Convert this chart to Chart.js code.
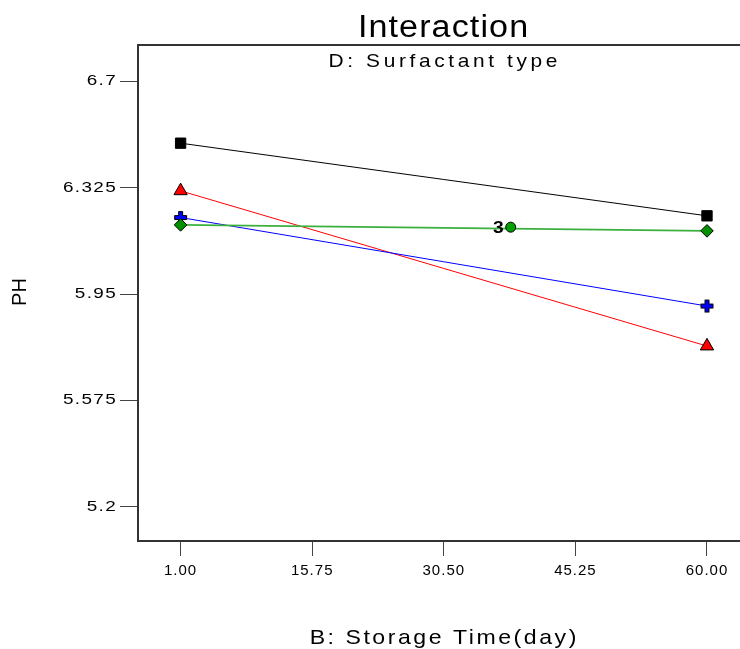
<!DOCTYPE html>
<html>
<head>
<meta charset="utf-8">
<script src="https://cdn.jsdelivr.net/npm/chart.js@4"></script>
<style>
  html, body { margin: 0; padding: 0; background: #fff; overflow: hidden; }
  #wrap { width: 760px; height: 649px; }
</style>
</head>
<body>
<div id="wrap"><canvas id="chart" width="760" height="649"></canvas></div>
<script>
// storage time (day) on x, PH on y, one line per surfactant type
const storageDays = [1, 60];
const phType1 = [6.482, 6.226];   // black squares
const phType2 = [6.314, 5.767];   // red triangles
const phType3 = [6.220, 5.908];   // blue crosses
const phType4 = [6.194, 6.173];   // green diamonds
const centerDay = 38;
const centerPh = 6.186;
const centerReps = "3";

const xTicks = [1, 15.75, 30.5, 45.25, 60];
const yTicks = [5.2, 5.575, 5.95, 6.325, 6.7];
const yTickLabels = ["5.2", "5.575", "5.95", "6.325", "6.7"];

const FONT = "'Liberation Sans', Arial, sans-serif";

function toPoints(xs, ys) {
  return xs.map((x, i) => ({ x: x, y: ys[i] }));
}

// filled plus marker with black outline
function plusMarker(fill) {
  const c = document.createElement("canvas");
  c.width = 15; c.height = 15;
  const g = c.getContext("2d");
  const a = 1.5, b = 5.5, d = 9.5, e = 13.5;
  g.beginPath();
  g.moveTo(b, a); g.lineTo(d, a); g.lineTo(d, b); g.lineTo(e, b); g.lineTo(e, d);
  g.lineTo(d, d); g.lineTo(d, e); g.lineTo(b, e); g.lineTo(b, d); g.lineTo(a, d);
  g.lineTo(a, b); g.lineTo(b, b); g.closePath();
  g.fillStyle = fill; g.fill();
  g.strokeStyle = "#000"; g.lineWidth = 1; g.stroke();
  return c;
}

// centred text, a bit wide like the original export
function wideText(ctx, text, cx, y, font, spacing, sx) {
  ctx.save();
  ctx.font = font;
  ctx.letterSpacing = spacing + "px";
  ctx.textAlign = "left";
  ctx.textBaseline = "alphabetic";
  const w = (ctx.measureText(text).width - spacing) * sx;
  ctx.translate(cx - w / 2, y);
  ctx.scale(sx, 1);
  ctx.fillStyle = "#000";
  ctx.fillText(text, 0, 0);
  ctx.restore();
}

// x labels: small letter spacing
function spaceLabels(scale, spacing) {
  if (scale._wide) return;
  const orig = scale.drawLabels.bind(scale);
  scale.drawLabels = area => {
    const ctx = scale.ctx;
    ctx.save();
    ctx.letterSpacing = spacing + "px";
    orig(area);
    ctx.restore();
  };
  scale._wide = true;
}

// y labels: stretched sideways around their common right edge
function stretchLabels(scale, spacing, sx) {
  if (scale._wide) return;
  const orig = scale.drawLabels.bind(scale);
  scale.drawLabels = area => {
    const ctx = scale.ctx;
    const x0 = scale.right - scale.options.grid.tickLength - scale.options.ticks.padding;
    ctx.save();
    ctx.letterSpacing = spacing + "px";
    ctx.translate(x0, 0);
    ctx.scale(sx, 1);
    ctx.translate(-x0, 0);
    orig(area);
    ctx.restore();
  };
  scale._wide = true;
}

const frameAndText = {
  id: "frameAndText",
  afterUpdate(chart) {
    spaceLabels(chart.scales.x, 1);
    stretchLabels(chart.scales.y, 1, 1.35);
  },
  afterDraw(chart) {
    const ctx = chart.ctx;
    const a = chart.chartArea;
    ctx.save();
    ctx.strokeStyle = "#333";
    ctx.lineWidth = 2;
    ctx.strokeRect(a.left, a.top, a.right - a.left, a.bottom - a.top);
    ctx.restore();

    wideText(ctx, "Interaction", 443, 36.5, "31px " + FONT, 1, 1.1);
    wideText(ctx, "D: Surfactant type", 443, 67, "19px " + FONT, 3.3, 1.1);
    wideText(ctx, "B: Storage Time(day)", 443, 644, "21px " + FONT, 2.3, 1.1);

    ctx.save();
    ctx.translate(26, 292);
    ctx.rotate(-Math.PI / 2);
    ctx.font = "20px " + FONT;
    ctx.textAlign = "center";
    ctx.fillStyle = "#000";
    ctx.fillText("PH", 0, 0);
    ctx.restore();

    // replicate count beside the centre point
    const pt = chart.getDatasetMeta(0).data[0];
    ctx.save();
    ctx.font = "bold 16px " + FONT;
    ctx.textAlign = "right";
    ctx.fillStyle = "#000";
    ctx.translate(pt.x - 7, pt.y + 5.5);
    ctx.scale(1.2, 1);
    ctx.fillText(centerReps, 0, 0);
    ctx.restore();
  }
};

new Chart(document.getElementById("chart"), {
  type: "line",
  data: {
    datasets: [
      {
        data: [{ x: centerDay, y: centerPh }],
        showLine: false,
        pointStyle: "circle",
        pointRadius: 5,
        backgroundColor: "#00a000",
        borderColor: "#000",
        pointBorderWidth: 1
      },
      {
        data: toPoints(storageDays, phType4),
        borderColor: "#3cb03c",
        borderWidth: 1.6,
        pointStyle: "rectRot",
        pointRadius: 6.3,
        pointBackgroundColor: "#009000",
        pointBorderColor: "#000",
        pointBorderWidth: 1
      },
      {
        data: toPoints(storageDays, phType3),
        borderColor: "#0000ff",
        borderWidth: 1,
        pointStyle: plusMarker("#0000ff"),
        pointRadius: 7
      },
      {
        data: toPoints(storageDays, phType2),
        borderColor: "#ff0000",
        borderWidth: 1,
        pointStyle: "triangle",
        pointRadius: 7.7,
        pointBackgroundColor: "#ff0000",
        pointBorderColor: "#000",
        pointBorderWidth: 1
      },
      {
        data: toPoints(storageDays, phType1),
        borderColor: "#000",
        borderWidth: 1,
        pointStyle: "rect",
        pointRadius: 7.3,
        pointBackgroundColor: "#000",
        pointBorderColor: "#000",
        pointBorderWidth: 1
      }
    ]
  },
  options: {
    responsive: false,
    devicePixelRatio: 1,
    animation: false,
    clip: false,
    layout: { padding: { top: 45, right: 10, left: 0, bottom: 0 } },
    plugins: {
      legend: { display: false },
      tooltip: { enabled: false },
      title: { display: false }
    },
    elements: { line: { tension: 0 } },
    scales: {
      x: {
        type: "linear",
        min: -3.775,
        max: 64.82,
        afterFit: s => { s.height = 108; },
        afterBuildTicks: s => { s.ticks = xTicks.map(v => ({ value: v })); },
        border: { display: false },
        grid: { drawOnChartArea: false, drawTicks: true, tickLength: 15, color: "#444", lineWidth: 1 },
        ticks: {
          padding: 6,
          color: "#000",
          font: { family: FONT, size: 15 },
          callback: v => v.toFixed(2)
        }
      },
      y: {
        type: "linear",
        min: 5.08,
        max: 6.828,
        afterFit: s => { s.width = 138; },
        afterBuildTicks: s => { s.ticks = yTicks.map(v => ({ value: v })); },
        border: { display: false },
        grid: { drawOnChartArea: false, drawTicks: true, tickLength: 18, color: "#444", lineWidth: 1 },
        ticks: {
          padding: 3,
          color: "#000",
          font: { family: FONT, size: 14 },
          callback: v => yTickLabels[yTicks.indexOf(v)]
        }
      }
    }
  },
  plugins: [frameAndText]
});
</script>
</body>
</html>
